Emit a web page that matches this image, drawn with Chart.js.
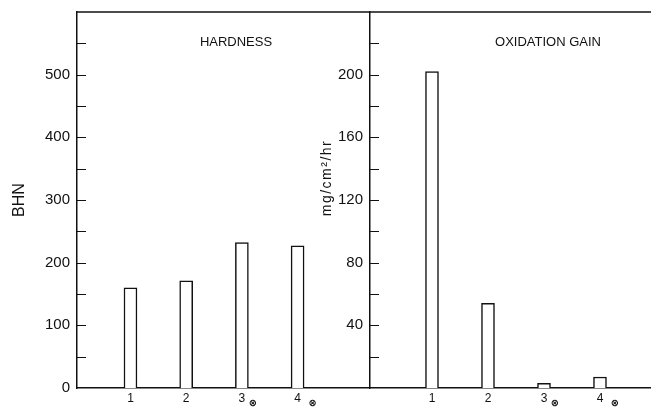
<!DOCTYPE html>
<html>
<head>
<meta charset="utf-8">
<script src="https://cdn.jsdelivr.net/npm/chart.js@4.4.1/dist/chart.umd.min.js"></script>
<style>
  html, body { margin: 0; padding: 0; background: #fff; }
  #wrap { position: relative; width: 651px; height: 407px; overflow: hidden; }
  canvas { position: absolute; top: 0; }
  #hardness { left: 0; }
  #oxidation { left: 300px; }
</style>
</head>
<body>
<div id="wrap">
  <canvas id="hardness" width="370" height="407"></canvas>
  <canvas id="oxidation" width="351" height="407"></canvas>
</div>
<script>
// alloy numbers along the bottom, ⊗ marks the coated ones
const alloys = ['1', '2', '3', '4'];
const coated = ['', '', '⊗', '⊗'];

const hardness = [160, 171, 232, 227];   // BHN
const oxidation = [202, 54, 3, 7];       // mg/cm2/hr

const hardnessTicks = [0, 100, 200, 300, 400, 500];
const oxidationTicks = [40, 80, 120, 160, 200];

const INK = '#111';
const FONT = '"Liberation Sans", Arial, Helvetica, sans-serif';
Chart.defaults.color = INK;
Chart.defaults.font.family = FONT;

const markOffsets = [0, 0, 11, 15];

// top border, inward tick marks, panel caption and ⊗ marks
const panelDecor = {
  id: 'panelDecor',
  afterDraw(chart, args, opts) {
    const { ctx, chartArea: a, scales: { x, y } } = chart;
    ctx.save();
    ctx.strokeStyle = INK;
    ctx.lineWidth = 1.5;
    ctx.beginPath();
    ctx.moveTo(a.left, a.top);
    ctx.lineTo(a.right, a.top);
    ctx.stroke();

    ctx.lineWidth = 1;
    y.ticks.forEach(t => {
      if (t.value <= y.min || t.value >= y.max) return;
      const py = Math.round(y.getPixelForValue(t.value)) + 0.5;
      ctx.beginPath();
      ctx.moveTo(a.left, py);
      ctx.lineTo(a.left + 9, py);
      ctx.stroke();
    });

    ctx.fillStyle = INK;
    ctx.textAlign = 'center';
    ctx.textBaseline = 'middle';
    ctx.font = '13px ' + FONT;
    ctx.fillText(opts.caption, a.left + opts.captionX, a.top + 30);

    ctx.font = 'bold 10px "DejaVu Sans", sans-serif';
    alloys.forEach((c, i) => {
      if (coated[i]) ctx.fillText(coated[i], x.getPixelForValue(i + 1) + markOffsets[i], 403);
    });

    if (opts.unit) {
      ctx.translate(27, 178);
      ctx.rotate(-Math.PI / 2);
      ctx.font = '14px ' + FONT;
      ctx.letterSpacing = '1.5px';
      ctx.fillText(opts.unit, 0, 0);
    }
    ctx.restore();
  }
};

function panel(canvasId, values, yMax, yStep, labelTicks, axisWidth, xMin, xMax, extra) {
  new Chart(document.getElementById(canvasId), {
    type: 'bar',
    data: {
      datasets: [{
        data: values.map((v, i) => ({ x: i + 1, y: v })),
        backgroundColor: '#fff',
        borderColor: INK,
        borderWidth: 1.5,
        barThickness: 13
      }]
    },
    options: {
      responsive: false,
      animation: false,
      layout: { padding: { top: 12 } },
      plugins: {
        legend: { display: false },
        tooltip: { enabled: false },
        panelDecor: extra.decor
      },
      scales: {
        x: {
          type: 'linear',
          min: xMin,
          max: xMax,
          offset: false,
          grid: { display: false, drawTicks: false },
          border: { display: true, color: INK, width: 1.5 },
          afterFit: s => { s.height = 19; },
          ticks: {
            stepSize: 1,
            includeBounds: false,
            autoSkip: false,
            maxRotation: 0,
            padding: 3,
            font: { size: 12 },
            callback: v => (Number.isInteger(v) && v >= 1 && v <= alloys.length) ? alloys[v - 1] : ''
          }
        },
        y: {
          min: 0,
          max: yMax,
          grid: { display: false, drawTicks: false },
          border: { display: true, color: INK, width: 1.5 },
          afterFit: s => { s.width = axisWidth; s.paddingTop = 0; s.paddingBottom = 0; },
          title: extra.title,
          ticks: {
            stepSize: yStep,
            autoSkip: false,
            padding: 7,
            font: { size: 15 },
            callback: v => labelTicks.includes(v) ? v : ''
          }
        }
      }
    },
    plugins: [panelDecor]
  });
}

panel('hardness', hardness, 600, 50, hardnessTicks, 77, 0.04, 5.3, {
  decor: { caption: 'HARDNESS', captionX: 159 },
  title: { display: true, text: 'BHN', font: { size: 16 }, padding: { top: 10 } }
});

panel('oxidation', oxidation, 240, 20, oxidationTicks, 70, -0.107, 4.911, {
  decor: { caption: 'OXIDATION GAIN', captionX: 178, unit: 'mg/cm²/hr' },
  title: { display: false }
});
</script>
</body>
</html>
